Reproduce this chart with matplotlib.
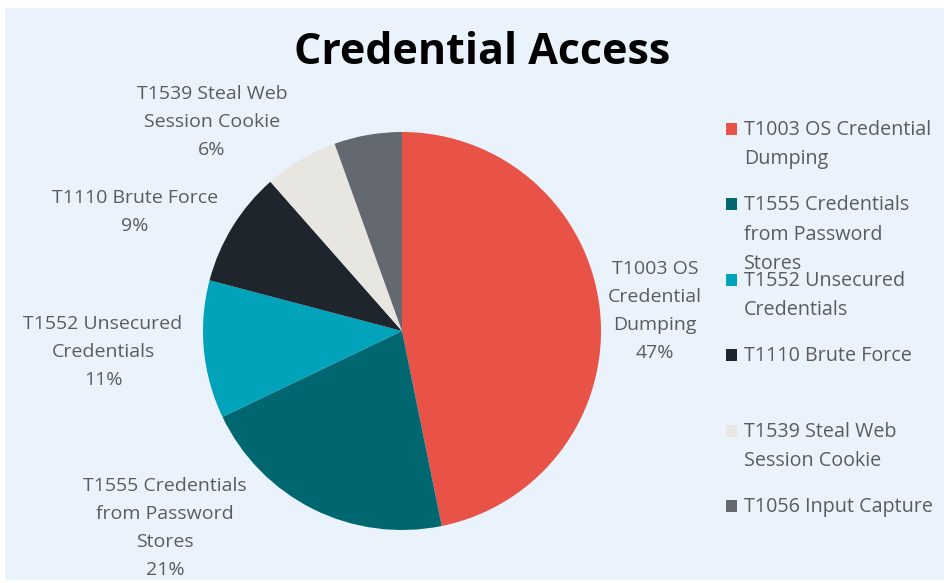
import textwrap
import matplotlib
matplotlib.use("Agg")
import matplotlib.pyplot as plt
from matplotlib.patches import Rectangle

# ---- data ----
categories = ["T1003 OS Credential Dumping", "T1555 Credentials from Password Stores",
              "T1552 Unsecured Credentials", "T1110 Brute Force",
              "T1539 Steal Web Session Cookie", "T1056 Input Capture"]
values = [46.8, 21.1, 11.2, 9.4, 6.0, 5.5]
pie_labels = ["T1003 OS\nCredential\nDumping", "T1555 Credentials\nfrom Password\nStores",
              "T1552 Unsecured\nCredentials", "T1110 Brute Force",
              "T1539 Steal Web\nSession Cookie", ""]
colors = ["#E95246", "#006670", "#00A3BA", "#1E252D", "#E8E6E1", "#646870"]

# ---- layout (pixels) ----
W, H = 945, 583
BG = "#EAF3FB"
TXT = "#5A5C60"
FONT = "Open Sans"
cx, cy, R = 402, 331, 199
label_pos = [(655, 311), (165, 528), (103, 352), (135, 212), (212, 122), None]

fig = plt.figure(figsize=(W / 100, H / 100), dpi=100, facecolor="white")
fig.patches.append(Rectangle((5 / W, 3 / H), (W - 5) / W, (H - 11) / H,
                             transform=fig.transFigure, facecolor=BG, edgecolor="none",
                             zorder=-10))

ax = fig.add_axes([(cx - R) / W, (H - cy - R) / H, 2 * R / W, 2 * R / H])
ax.set_zorder(5)
ax.set_facecolor("none")
wedges, _ = ax.pie(values, colors=colors, startangle=90, counterclock=False,
                   radius=1, wedgeprops=dict(linewidth=0))
ax.set_xlim(-1, 1)
ax.set_ylim(-1, 1)
ax.set_aspect("equal")
ax.axis("off")

def fx(px):
    return px / W

def fy(py):
    return 1 - py / H

fig.text(fx(482), fy(53), "Credential Access", ha="center", va="center",
         fontsize=31, fontweight="bold", family=["Open Sans", "DejaVu Sans"],
         color="black")

for lab, v, pos in zip(pie_labels, values, label_pos):
    if pos is None or not lab:
        continue
    fig.text(fx(pos[0]), fy(pos[1]), f"{lab}\n{round(v)}%", ha="center", va="center",
             fontsize=14, family=FONT, color=TXT, linespacing=1.72)

# legend: evenly spaced slots
leg_top = 129
slot = 75.4
for i, (cat, col) in enumerate(zip(categories, colors)):
    y = leg_top + i * slot
    fig.patches.append(Rectangle((fx(726), fy(y + 6)), 11 / W, 12 / H, transform=fig.transFigure,
                                 facecolor=col, edgecolor="none"))
    fig.text(fx(744), fy(y - 9), textwrap.fill(cat, 19), ha="left", va="top",
             fontsize=14.2, family=FONT, color=TXT, linespacing=1.62)

fig.savefig("out.png", dpi=100, facecolor=fig.get_facecolor())
